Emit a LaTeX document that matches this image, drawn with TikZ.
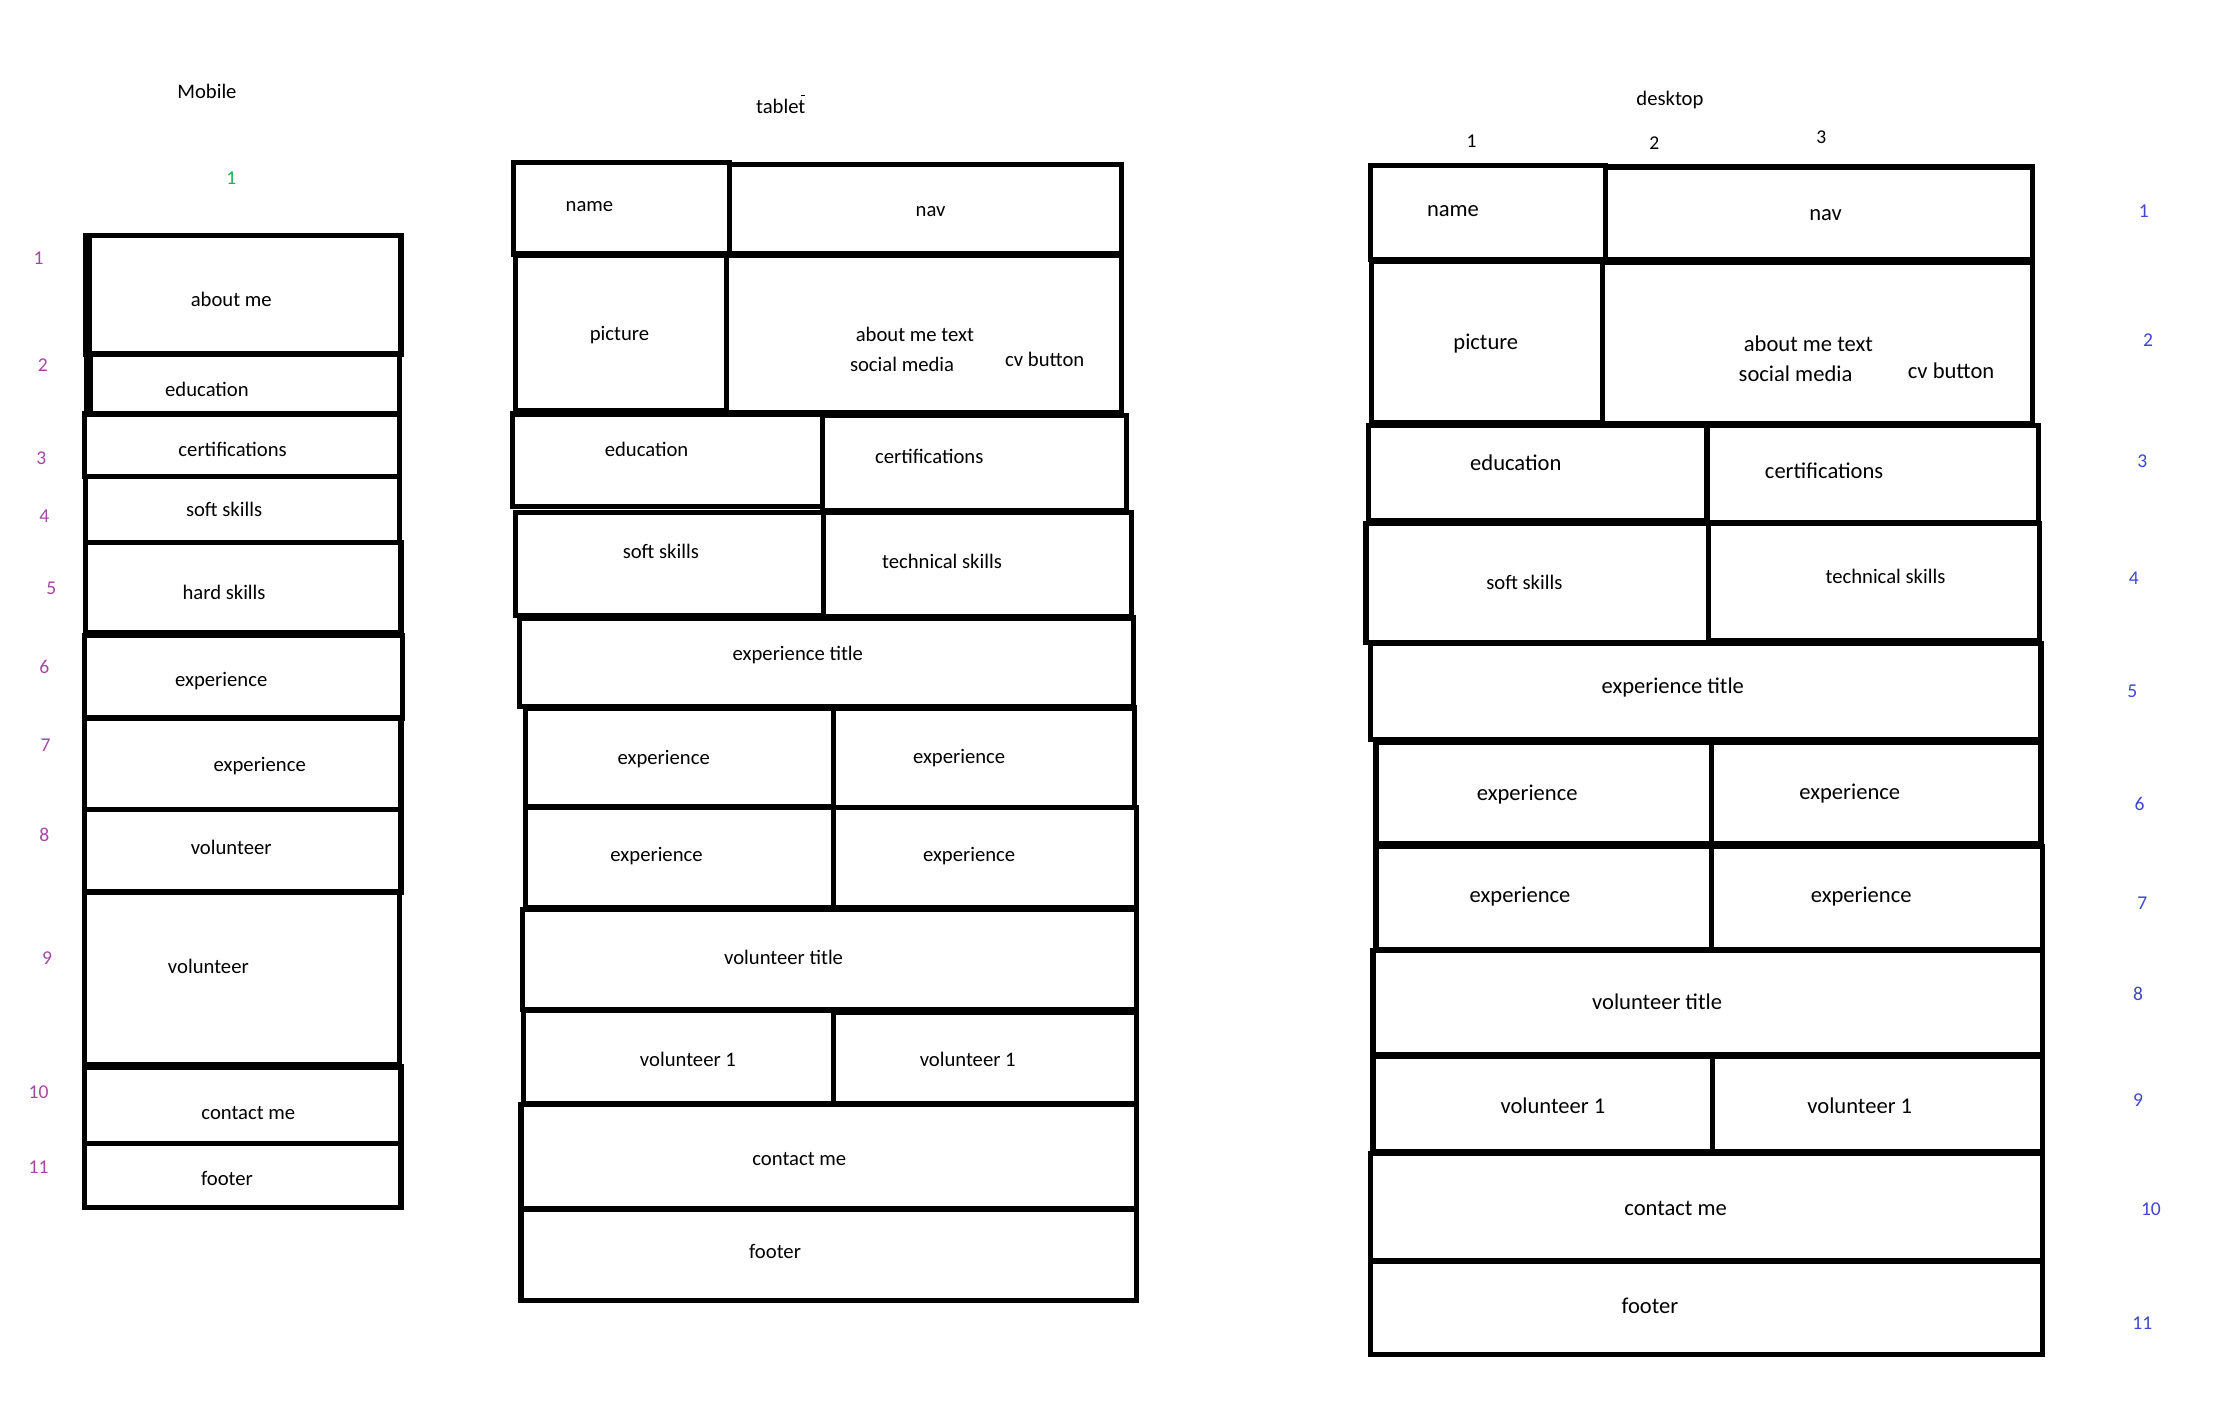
\documentclass[tikz,border=0pt]{standalone}
\usepackage{fontspec}
\setmainfont{Carlito}
\definecolor{mpurple}{HTML}{A349A4}
\definecolor{mblue}{HTML}{3F48CC}
\definecolor{mgreen}{HTML}{22B14C}
\begin{document}
\begin{tikzpicture}[x=0.5mm,y=-0.5mm,
  cell/.style={draw=black,line width=5.2pt},
  thk/.style={draw=black,line width=8pt},
  lbl/.style={inner sep=0pt,font=\fontsize{20.6}{24}\selectfont},
  dlbl/.style={inner sep=0pt,font=\fontsize{22.5}{26}\selectfont},
  pnum/.style={inner sep=0pt,text=mpurple,font=\fontsize{19.5}{22}\selectfont},
  bnum/.style={inner sep=0pt,text=mblue,font=\fontsize{19.5}{22}\selectfont},
  knum/.style={inner sep=0pt,font=\fontsize{19.5}{22}\selectfont}]
\useasboundingbox[fill=white] (0,0) rectangle (1568,992);

% ---------------- Mobile ----------------
\node[lbl] (mTitle) at (145,64) {Mobile};
\node[knum,text=mgreen] (mCol) at (162,125) {1};
\draw[cell] (60,165) rectangle (281,248);
\draw[thk] (61.5,165) -- (61.5,248);
\draw[cell] (61,248) rectangle (280,290);
\draw[thk] (62,248) -- (62,290);
\draw[cell] (59,290) rectangle (280,334);
\draw[cell] (60,334) rectangle (280,380);
\draw[cell] (60,380) rectangle (281,443);
\draw[thk] (58,444) -- (282,444);
\draw[cell] (59,445) rectangle (282,503);
\draw[cell] (59,503) rectangle (281,567);
\draw[cell] (59,567) rectangle (281,625);
\draw[cell] (59,625) rectangle (280,747);
\draw[thk] (59,747) -- (281,747);
\draw[cell] (59,747) rectangle (281,801);
\draw[cell] (59,801) rectangle (281,846);
\node[lbl] (mAbout) at (162,210) {about me};
\node[lbl] (mEdu) at (145,273) {education};
\node[lbl] (mCert) at (163,315) {certifications};
\node[lbl] (mSoft) at (157,357) {soft skills};
\node[lbl] (mHard) at (157,415) {hard skills};
\node[lbl] (mExpA) at (155,477) {experience};
\node[lbl] (mExpB) at (182,537) {experience};
\node[lbl] (mVolA) at (162,594) {volunteer};
\node[lbl] (mVolB) at (146,677) {volunteer};
\node[lbl] (mContact) at (174,780) {contact me};
\node[lbl] (mFooter) at (159,826) {footer};
\node[pnum] (mN1) at (27,181) {1};
\node[pnum] (mN2) at (30,256) {2};
\node[pnum] (mN3) at (29,321) {3};
\node[pnum] (mN4) at (31,362) {4};
\node[pnum] (mN5) at (36,412) {5};
\node[pnum] (mN6) at (31,467) {6};
\node[pnum] (mN7) at (32,522) {7};
\node[pnum] (mN8) at (31,585) {8};
\node[pnum] (mN9) at (33,671) {9};
\node[pnum] (mN10) at (27,765) {10};
\node[pnum] (mN11) at (27,818) {11};

% ---------------- Tablet ----------------
\node[lbl] (tTitle) at (547,73) {tablet\llap{\raisebox{0.85em}{\rule{0.2em}{0.05em}}}};
\draw[cell] (360,114) rectangle (511,178);
\draw[cell] (511,115) rectangle (786,178);
\draw[cell] (361,179) rectangle (509,288);
\draw[cell] (509,179) rectangle (786,289);
\draw[cell] (359,290) rectangle (576,355);
\draw[cell] (576,291) rectangle (789,358);
\draw[cell] (361,359) rectangle (577,431);
\draw[cell] (577,359) rectangle (793,432);
\draw[cell] (364,433) rectangle (794,495);
\draw[cell] (368,496) rectangle (584,565);
\draw[cell] (584,496) rectangle (795,566);
\draw[cell] (368,566) rectangle (584,636);
\draw[cell] (584,566) rectangle (796,636);
\draw[cell] (366,637) rectangle (796,707);
\draw[cell] (367,708) rectangle (584,773);
\draw[cell] (584,709) rectangle (796,773);
\draw[cell] (365,774) rectangle (796,847);
\draw[cell] (365,847) rectangle (796,911);
\node[lbl] (tName) at (413,145) {name};
\node[lbl] (tNav) at (652,148) {nav};
\node[lbl] (tPic) at (434,235) {picture};
\node[lbl] (tAboutTxt) at (641,234) {about me text};
\node[lbl] (tSocial) at (632,255) {social media};
\node[lbl] (tCv) at (732,252) {cv button};
\node[lbl] (tEdu) at (453,315) {education};
\node[lbl] (tCert) at (651,320) {certifications};
\node[lbl] (tSoft) at (463,386) {soft skills};
\node[lbl] (tTech) at (660,393) {technical skills};
\node[lbl] (tExpTitle) at (559,459) {experience title};
\node[lbl] (tExp1) at (465,532) {experience};
\node[lbl] (tExp2) at (672,531) {experience};
\node[lbl] (tExp3) at (460,600) {experience};
\node[lbl] (tExp4) at (679,600) {experience};
\node[lbl] (tVolTitle) at (549,671) {volunteer title};
\node[lbl] (tVol1) at (482,742) {volunteer 1};
\node[lbl] (tVol2) at (678,742) {volunteer 1};
\node[lbl] (tContact) at (560,812) {contact me};
\node[lbl] (tFooter) at (543,877) {footer};

% ---------------- Desktop ----------------
\node[lbl] (dTitle) at (1170,70) {desktop};
\node[knum] (dC1) at (1031,99) {1};
\node[knum] (dC2) at (1159,100) {2};
\node[knum] (dC3) at (1276,96) {3};
\draw[cell] (960,116) rectangle (1125,182);
\draw[cell] (1125,117) rectangle (1424,182);
\draw[cell] (961,183) rectangle (1123,296);
\draw[cell] (1123,184) rectangle (1424,297);
\draw[cell] (959,298) rectangle (1196,365);
\draw[cell] (1196,298) rectangle (1428,366);
\draw[cell] (957,367) rectangle (1197,450);
\draw[cell] (1197,367) rectangle (1429,449);
\draw[cell] (960,451) rectangle (1430,518);
\draw[cell] (964,520) rectangle (1199,591);
\draw[cell] (1199,520) rectangle (1430,591);
\draw[cell] (964,593) rectangle (1199,665);
\draw[cell] (1199,593) rectangle (1431,665);
\draw[cell] (962,666) rectangle (1431,739);
\draw[cell] (962,740) rectangle (1200,807);
\draw[cell] (1200,740) rectangle (1431,807);
\draw[cell] (960,808) rectangle (1431,883);
\draw[cell] (960,884) rectangle (1431,949);
\node[dlbl] (dName) at (1018,148) {name};
\node[dlbl] (dNav) at (1279,151) {nav};
\node[dlbl] (dPic) at (1041,241) {picture};
\node[dlbl] (dAboutTxt) at (1267,241) {about me text};
\node[dlbl] (dSocial) at (1258,262) {social media};
\node[dlbl] (dCv) at (1367,260) {cv button};
\node[dlbl] (dEdu) at (1062,324) {education};
\node[dlbl] (dCert) at (1278,330) {certifications};
\node[lbl] (dSoft) at (1068,408) {soft skills};
\node[lbl] (dTech) at (1321,404) {technical skills};
\node[dlbl] (dExpTitle) at (1172,482) {experience title};
\node[dlbl] (dExp1) at (1070,557) {experience};
\node[dlbl] (dExp2) at (1296,556) {experience};
\node[dlbl] (dExp3) at (1065,628) {experience};
\node[dlbl] (dExp4) at (1304,628) {experience};
\node[dlbl] (dVolTitle) at (1161,702) {volunteer title};
\node[dlbl] (dVol1) at (1088,775) {volunteer 1};
\node[dlbl] (dVol2) at (1303,775) {volunteer 1};
\node[dlbl] (dContact) at (1174,847) {contact me};
\node[dlbl] (dFooter) at (1156,915) {footer};
\node[bnum] (dN1) at (1502,148) {1};
\node[bnum] (dN2) at (1505,238) {2};
\node[bnum] (dN3) at (1501,323) {3};
\node[bnum] (dN4) at (1495,405) {4};
\node[bnum] (dN5) at (1494,484) {5};
\node[bnum] (dN6) at (1499,563) {6};
\node[bnum] (dN7) at (1501,633) {7};
\node[bnum] (dN8) at (1498,696) {8};
\node[bnum] (dN9) at (1498,771) {9};
\node[bnum] (dN10) at (1507,847) {10};
\node[bnum] (dN11) at (1501,927) {11};
\end{tikzpicture}
\end{document}
